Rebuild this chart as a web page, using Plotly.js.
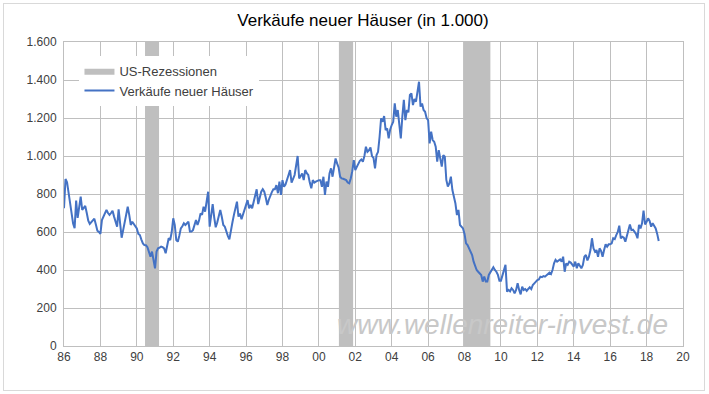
<!DOCTYPE html>
<html>
<head>
<meta charset="utf-8">
<script src="https://cdn.plot.ly/plotly-3.0.1.min.js"></script>
<style>
  html, body { margin: 0; padding: 0; background: #ffffff; }
  #wrap { position: relative; width: 709px; height: 394px; }
  #chart { width: 709px; height: 394px; }
  #frame { position: absolute; left: 3px; top: 3px; width: 700px; height: 386px;
           border: 1px solid #d9d9d9; pointer-events: none; }
</style>
</head>
<body>
<div id="wrap"><div id="chart"></div><div id="frame"></div></div>
<script>
// ---- data ----
const startYear = 1986;   // first month: January 1986
// monthly new home sales, thousands (SAAR), Jan 1986 .. Sep 2018
const sales = [
  725, 879, 862, 800, 740, 690, 645, 620, 765, 674, 720, 786,        // 1986
  716, 725, 737, 700, 660, 642, 650, 663, 670, 640, 607, 600,        // 1987
  590, 663, 680, 698, 716, 700, 690, 700, 712, 681, 660, 628,        // 1988
  719, 650, 570, 610, 646, 690, 733, 690, 637, 654, 640, 630,        // 1989
  619, 590, 584, 560, 540, 531, 530, 520, 488, 470, 497, 460,        // 1990
  409, 497, 514, 518, 523, 520, 514, 488, 530, 567, 558, 600,        // 1991
  672, 637, 558, 549, 580, 619, 630, 646, 637, 645, 654, 602,        // 1992
  602, 610, 640, 663, 637, 660, 698, 690, 733, 707, 760, 812,        // 1993
  628, 690, 747, 677, 625, 650, 677, 716, 680, 637, 628, 600,        // 1994
  580, 561, 619, 650, 690, 720, 760, 681, 698, 667, 690, 716,        // 1995
  740, 768, 725, 742, 725, 760, 780, 825, 747, 780, 812, 825,        // 1996
  812, 780, 742, 770, 795, 810, 825, 825, 847, 804, 865, 795,        // 1997
  873, 838, 850, 870, 900, 926, 860, 880, 900, 950, 1000, 882,       // 1998
  895, 908, 873, 926, 910, 900, 860, 830, 873, 860, 865, 870,        // 1999
  873, 873, 838, 891, 795, 865, 838, 908, 935, 891, 940, 987,        // 2000
  961, 940, 891, 882, 880, 878, 873, 860, 856, 882, 920, 978,        // 2001
  926, 943, 961, 975, 982, 970, 1000, 1049, 1022, 1030, 1045, 1000,  // 2002
  990, 935, 1005, 1022, 1100, 1198, 1180, 1210, 1136, 1145, 1093, 1140, // 2003
  1163, 1180, 1277, 1207, 1242, 1160, 1093, 1207, 1295, 1189, 1242, 1230, // 2004
  1321, 1330, 1268, 1300, 1286, 1339, 1391, 1260, 1277, 1242, 1233, 1200, // 2005
  1189, 1066, 1128, 1084, 1075, 1049, 970, 1031, 987, 944, 1005, 996, // 2006
  874, 839, 856, 891, 821, 786, 750, 689, 716, 637, 628, 619,        // 2007
  590, 540, 531, 510, 496, 479, 444, 417, 400, 391, 380, 374,        // 2008
  339, 365, 339, 339, 374, 390, 400, 414, 400, 391, 374, 344,        // 2009
  344, 374, 400, 427, 286, 295, 288, 304, 295, 277, 295, 330,        // 2010
  295, 272, 312, 295, 300, 290, 300, 309, 300, 321, 330, 339,        // 2011
  347, 350, 365, 362, 368, 365, 374, 379, 386, 379, 400, 435,        // 2012
  453, 444, 449, 456, 444, 470, 391, 435, 427, 444, 439, 427,        // 2013
  418, 444, 409, 435, 425, 409, 427, 470, 479, 450, 470, 505,        // 2014
  567, 514, 496, 505, 470, 514, 500, 470, 505, 535, 523, 535,        // 2015
  535, 540, 567, 563, 584, 600, 633, 567, 575, 570, 549, 584,        // 2016
  619, 640, 610, 612, 602, 590, 567, 637, 619, 646, 712, 640,        // 2017
  654, 672, 658, 628, 646, 630, 619, 590, 553                        // 2018
];
// US recessions (decimal years)
const recessionStart = [1990.45, 2001.10, 2007.92];
const recessionEnd   = [1991.22, 2001.88, 2009.42];
const yTickVals  = [0, 200, 400, 600, 800, 1000, 1200, 1400, 1600];
const yTickText  = ['0', '200', '400', '600', '800', '1.000', '1.200', '1.400', '1.600'];
const xTickVals  = [1986, 1988, 1990, 1992, 1994, 1996, 1998, 2000, 2002, 2004, 2006, 2008, 2010, 2012, 2014, 2016, 2018, 2020];
const xTickText  = ['86', '88', '90', '92', '94', '96', '98', '00', '02', '04', '06', '08', '10', '12', '14', '16', '18', '20'];

// ---- build traces ----
const xMonths = sales.map((_, i) => startYear + i / 12);
const yTop = yTickVals[yTickVals.length - 1];

const recX = [], recY = [];
recessionStart.forEach((s, i) => {
  const e = recessionEnd[i];
  recX.push(s, e, e, s, s, null);
  recY.push(0, 0, yTop, yTop, 0, null);
});

const traces = [
  {
    x: recX, y: recY, type: 'scatter', mode: 'lines',
    fill: 'toself', fillcolor: '#bfbfbf',
    line: { width: 0, color: '#bfbfbf' },
    name: 'US-Rezessionen', hoverinfo: 'skip'
  },
  {
    x: xMonths, y: sales, type: 'scatter', mode: 'lines',
    line: { color: '#4472c4', width: 2 },
    name: 'Verkäufe neuer Häuser'
  }
];

const font = 'Liberation Sans, Arial, sans-serif';
const layout = {
  width: 709, height: 394,
  margin: { l: 64, r: 26, t: 42, b: 48 },
  paper_bgcolor: '#ffffff', plot_bgcolor: '#ffffff',
  font: { family: font, size: 12, color: '#404040' },
  title: {
    text: 'Verkäufe neuer Häuser (in 1.000)',
    font: { family: font, size: 17, color: '#000000' },
    x: 0.483, xref: 'paper', xanchor: 'center',
    y: 0.948, yref: 'container', yanchor: 'middle'
  },
  xaxis: {
    range: [1986, 2020], tickvals: xTickVals, ticktext: xTickText,
    showgrid: true, gridcolor: '#bfbfbf', gridwidth: 1,
    showline: true, linecolor: '#bfbfbf', linewidth: 1, mirror: true,
    zeroline: false, ticks: '', tickfont: { family: font, size: 12, color: '#404040' },
    fixedrange: true
  },
  yaxis: {
    range: [0, 1600], tickvals: yTickVals, ticktext: yTickText,
    showgrid: true, gridcolor: '#bfbfbf', gridwidth: 1,
    showline: true, linecolor: '#bfbfbf', linewidth: 1, mirror: true,
    zeroline: false, ticks: '', ticklabelstandoff: 4,
    tickfont: { family: font, size: 12, color: '#404040' },
    fixedrange: true
  },
  showlegend: true,
  legend: {
    x: 0.025, y: 0.955, xanchor: 'left', yanchor: 'top',
    bgcolor: '#ffffff', borderwidth: 0,
    font: { family: font, size: 13, color: '#404040' },
    itemwidth: 30, tracegroupgap: 0
  },
  annotations: [{
    text: 'www.wellenreiter-invest.de',
    xref: 'paper', yref: 'paper', x: 0.709, y: 0.072,
    xanchor: 'center', yanchor: 'middle', showarrow: false,
    font: { family: font, size: 28, color: '#c8c8c8', style: 'italic' }
  }]
};

Plotly.newPlot('chart', traces, layout, { displayModeBar: false, staticPlot: true });
</script>
</body>
</html>
